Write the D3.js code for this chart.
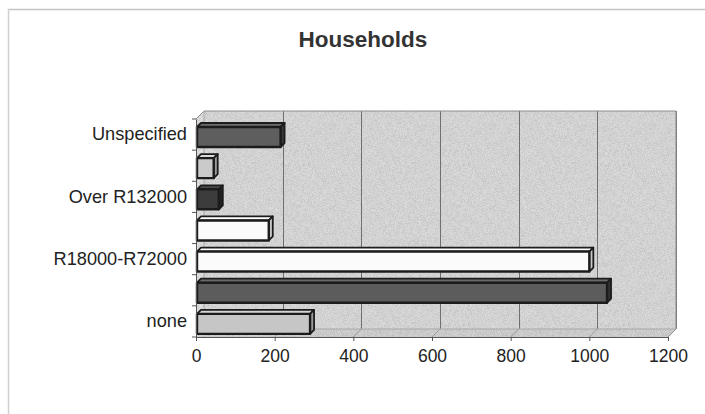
<!DOCTYPE html>
<html>
<head>
<meta charset="utf-8">
<script src="https://cdn.jsdelivr.net/npm/d3@7"></script>
<style>
  html, body { margin: 0; padding: 0; background: #fff; }
  svg { display: block; font-family: "Liberation Sans", Arial, sans-serif; }
</style>
</head>
<body>
<svg id="chart" width="705" height="414"></svg>
<script>
// Household income groups, bottom to top
const categories = ["none", "R1-R18000", "R18000-R72000", "R72000-R132000", "Over R132000", "Not applicable", "Unspecified"];
const households = [290, 1045, 1000, 185, 58, 45, 215];
// Face colours for each bar (front, top, side)
const barFront = ["#c6c6c6", "#5c5c5c", "#fbfbfb", "#fbfbfb", "#3c3c3c", "#cacaca", "#5e5e5e"];
const barTop   = ["#d4d4d4", "#6a6a6a", "#ffffff", "#ffffff", "#4a4a4a", "#d8d8d8", "#6c6c6c"];
const barSide  = ["#9a9a9a", "#333333", "#c8c8c8", "#c8c8c8", "#222222", "#9c9c9c", "#383838"];
// Category labels shown on the axis (every other one)
const shownLabels = ["none", "R18000-R72000", "Over R132000", "Unspecified"];
const xTicks = [0, 200, 400, 600, 800, 1000, 1200];

const svg = d3.select("#chart");

// Front plane of the 3D box
const x = d3.scaleLinear().domain([0, 1200]).range([196, 668]);
const y = d3.scaleBand().domain(categories).range([337, 119]).paddingInner(0).paddingOuter(0);

// Depth of the walls and of the bars
const DX = 8, DY = -8;
const BX = 4, BY = -4;

const x0 = x.range()[0], x1 = x.range()[1];
const yTop = 119, yBot = 337;

// outer chart frame
svg.append("line").attr("x1", 8).attr("x2", 705).attr("y1", 9.5).attr("y2", 9.5)
  .attr("stroke", "#c4c4c4").attr("stroke-width", 1.5);
svg.append("line").attr("x1", 8.5).attr("x2", 8.5).attr("y1", 9).attr("y2", 414)
  .attr("stroke", "#d0d0d0").attr("stroke-width", 1.5);

// title
svg.append("text").attr("x", 363).attr("y", 47).attr("text-anchor", "middle")
  .attr("font-size", 22.5).attr("font-weight", "bold").attr("fill", "#333")
  .text("Households");

// fine grain for the walls
const defs = svg.append("defs");
const f = defs.append("filter").attr("id", "grain").attr("x", 0).attr("y", 0).attr("width", 1).attr("height", 1);
f.append("feTurbulence").attr("type", "fractalNoise").attr("baseFrequency", 1.6).attr("numOctaves", 1).attr("seed", 3).attr("result", "n");
f.append("feColorMatrix").attr("in", "n").attr("type", "matrix")
  .attr("values", "0 0 0 0 0  0 0 0 0 0  0 0 0 0 0  0 0 0 -0.6 0.38").attr("result", "a");
f.append("feComposite").attr("in", "a").attr("in2", "SourceGraphic").attr("operator", "in").attr("result", "m");
f.append("feMerge").call(m => { m.append("feMergeNode").attr("in", "SourceGraphic"); m.append("feMergeNode").attr("in", "m"); });

const pts = a => a.map(p => p.join(",")).join(" ");

// back wall
svg.append("rect").attr("x", x0 + DX).attr("y", yTop + DY)
  .attr("width", x1 - x0).attr("height", yBot - yTop)
  .attr("fill", "#dadada").attr("filter", "url(#grain)");
// left wall
svg.append("polygon")
  .attr("points", pts([[x0, yTop], [x0 + DX, yTop + DY], [x0 + DX, yBot + DY], [x0, yBot]]))
  .attr("fill", "#e2e2e2").attr("filter", "url(#grain)");
// floor
svg.append("polygon")
  .attr("points", pts([[x0, yBot], [x0 + DX, yBot + DY], [x1 + DX, yBot + DY], [x1, yBot]]))
  .attr("fill", "#d2d2d2").attr("filter", "url(#grain)");

// gridlines on back wall and floor
const grid = svg.append("g").attr("stroke", "#707070").attr("stroke-width", 1);
grid.selectAll("line.back").data(xTicks.slice(1)).join("line").attr("class", "back")
  .attr("x1", d => Math.round(x(d) + DX) + 0.5).attr("x2", d => Math.round(x(d) + DX) + 0.5)
  .attr("y1", yTop + DY).attr("y2", yBot + DY);
grid.selectAll("line.floor").data(xTicks.slice(1)).join("line").attr("class", "floor")
  .attr("stroke", "#9a9a9a")
  .attr("x1", d => x(d) + DX).attr("x2", d => x(d))
  .attr("y1", yBot + DY).attr("y2", yBot);

// wall outlines
svg.append("polyline")
  .attr("points", pts([[x0, yTop], [x0 + DX, yTop + DY], [x1 + DX, yTop + DY], [x1 + DX, yBot + DY], [x1, yBot]]))
  .attr("fill", "none").attr("stroke", "#8c8c8c").attr("stroke-width", 1);
svg.append("line").attr("x1", x0 + DX).attr("x2", x0 + DX).attr("y1", yTop + DY).attr("y2", yBot + DY)
  .attr("stroke", "#a8a8a8");
svg.append("line").attr("x1", x0 + DX).attr("x2", x1 + DX).attr("y1", yBot + DY).attr("y2", yBot + DY)
  .attr("stroke", "#a8a8a8");

// bars
const bars = svg.append("g");
categories.forEach((c, i) => {
  const v = households[i];
  const top = y(c) + 4 - BY;
  const h = 20;
  const xl = x(0) + 1, xr = x(v);
  const g = bars.append("g").attr("stroke", "#1c1c1c").attr("stroke-width", 1.8).attr("stroke-linejoin", "round");
  // top face
  g.append("polygon").attr("points", pts([[xl, top], [xl + BX, top + BY], [xr + BX, top + BY], [xr, top]]))
    .attr("fill", barTop[i]);
  // side face
  g.append("polygon").attr("points", pts([[xr, top], [xr + BX, top + BY], [xr + BX, top + h + BY], [xr, top + h]]))
    .attr("fill", barSide[i]);
  // front face
  g.append("rect").attr("x", xl).attr("y", top).attr("width", xr - xl).attr("height", h)
    .attr("fill", barFront[i]).attr("stroke-width", 2.4);
});

// left axis: line, tick marks between categories, labels
const yAxis = d3.axisLeft(y)
  .tickSize(0).tickPadding(9)
  .tickFormat(d => shownLabels.includes(d) ? d : "");
const ya = svg.append("g").attr("transform", `translate(${x0},0)`).call(yAxis);
ya.select(".domain").attr("stroke", "#555").attr("stroke-width", 1);
ya.selectAll("text").attr("font-size", 18.2).attr("fill", "#222")
  .attr("font-family", "'Liberation Sans', Arial, sans-serif");
const bounds = categories.map(c => y(c)).concat([y(categories[0]) + y.bandwidth()]);
svg.append("g").selectAll("line").data(bounds).join("line")
  .attr("x1", x0 - 4).attr("x2", x0).attr("y1", d => d).attr("y2", d => d)
  .attr("stroke", "#555");

// bottom axis
const xAxis = d3.axisBottom(x).tickValues(xTicks).tickSize(4).tickPadding(9).tickFormat(d3.format("d"));
const xa = svg.append("g").attr("transform", `translate(0,${yBot})`).call(xAxis);
xa.select(".domain").attr("stroke", "#555");
xa.selectAll(".tick line").attr("stroke", "#555");
xa.selectAll("text").attr("font-size", 17.5).attr("fill", "#222")
  .attr("font-family", "'Liberation Sans', Arial, sans-serif");
</script>
</body>
</html>
